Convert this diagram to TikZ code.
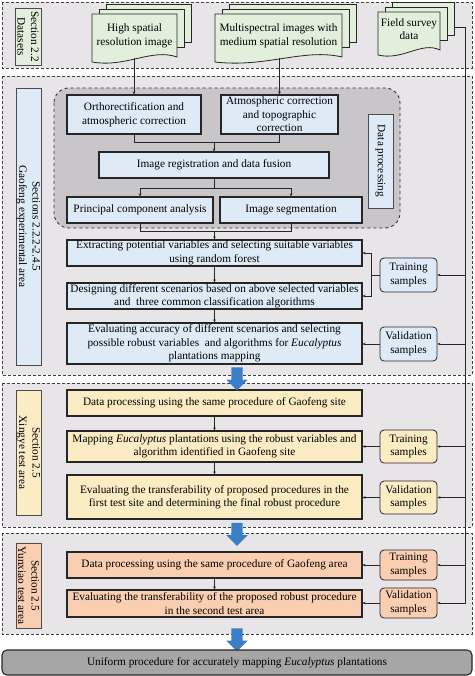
\documentclass[tikz,border=0pt]{standalone}
\usepackage{fontspec}
\setmainfont{Liberation Serif}
\usepackage{xcolor}
\usetikzlibrary{shapes.arrows, arrows.meta, positioning, calc}
\definecolor{panelgray}{RGB}{231,229,231}
\definecolor{dpgray}{RGB}{200,198,200}
\definecolor{docgreen}{RGB}{226,239,218}
\definecolor{boxblue}{RGB}{222,235,247}
\definecolor{boxyellow}{RGB}{252,236,196}
\definecolor{boxsalmon}{RGB}{250,206,176}
\definecolor{arrowblue}{RGB}{58,126,200}
\definecolor{finalgray}{RGB}{166,166,166}

% stack of three sheets, front sheet corners x1,y1,x2,y2
\newcommand{\docstack}[4]{%
  \filldraw[fill=docgreen, draw=black!85, line width=0.8pt] (#1+14,#2-10) rectangle (#3+14,#4-20);
  \filldraw[fill=docgreen, draw=black!85, line width=0.8pt] (#1+7,#2-5) rectangle (#3+7,#4-15);
  \filldraw[fill=docgreen, draw=black!85, line width=0.8pt] (#1,#2) -- (#3,#2) -- (#3,#4-5)
    .. controls ({#3-0.3*(#3-#1)},#4-14) and ({#1+0.4*(#3-#1)},#4+6) .. (#1,#4) -- cycle;
}

\begin{document}
\begin{tikzpicture}[x=1pt, y=-1pt,
    font=\fontsize{11.3}{13.5}\selectfont,
    doctext/.style={align=center, inner sep=0pt},
    panel/.style={draw=black!75, densely dashed, line width=0.9pt, fill=panelgray},
    sidebox/.style={draw=black!70, line width=0.6pt, rotate=-90, align=center, inner sep=0pt},
    procbox/.style={draw=black!85, line width=1.1pt, align=center, inner sep=0.5pt},
    samplebox/.style={draw=black!85, line width=0.8pt, rounded corners=4pt, align=center, inner sep=0.5pt, minimum width=57pt},
    link/.style={draw=black!85, line width=0.8pt},
    arr/.style={link, -{Stealth[length=3pt,width=2.6pt]}},
    bigarrow/.style={single arrow, fill=arrowblue, draw=none, shape border rotate=270,
        minimum height=23pt, single arrow head extend=5pt, inner sep=5.5pt},
]
\useasboundingbox (0,0) rectangle (474,676);

% Datasets
\draw[panel] (2,2) rectangle (472,68);
\node (side1) [sidebox, fill=docgreen, minimum width=57pt, minimum height=26pt] at (28,36.5) {Section 2.2\\Datasets};
\docstack{92}{14}{177}{62}
\node (hsr) [doctext] at (134.5,36) {High spatial\\resolution image};
\docstack{215}{14}{342}{62}
\node (msi) [doctext] at (278.5,36) {Multispectral images with\\medium spatial resolution};
\docstack{378}{12}{440}{55}
\node (fsd) [doctext] at (409,29) {Field survey\\data};
\coordinate (hsr-b) at (134,58);
\coordinate (msi-b) at (279.5,58);
\coordinate (fsd-r) at (454,27);
\coordinate (bus) at (465,27);

% Gaofeng experimental area
\draw[panel] (2,76) rectangle (472,375);
\node (side2) [sidebox, fill=boxblue, minimum width=277pt, minimum height=25pt] at (28.5,226.5) {Sections 2.2.2-2.4.5\\Gaofeng experimental area};
\draw[draw=black!80, dashed, line width=0.9pt, fill=dpgray, rounded corners=15pt] (54,88) rectangle (400,228);
\node (dplab) [sidebox, fill=boxblue, minimum width=94pt, minimum height=25pt] at (380.5,161) {Data processing};
\node (ortho) [procbox, fill=boxblue, minimum width=134pt, minimum height=39pt] at (134,114.5) {Orthorectification and\\atmospheric correction};
\node (atmos) [procbox, fill=boxblue, minimum width=117pt, minimum height=39pt] at (279.5,114.5) {Atmospheric correction\\and topographic\\correction};
\node (imgreg) [procbox, fill=boxblue, minimum width=230pt, minimum height=26pt] at (214,165) {Image registration and data fusion};
\node (pca) [procbox, fill=boxblue, minimum width=146pt, minimum height=26pt] at (140,210) {Principal component analysis};
\node (seg) [procbox, fill=boxblue, minimum width=142pt, minimum height=26pt] at (291,210) {Image segmentation};
\node (extract) [procbox, fill=boxblue, minimum width=295pt, minimum height=26pt] at (214.5,253) {Extracting potential variables and selecting suitable variables\\using random forest};
\node (design) [procbox, fill=boxblue, minimum width=295pt, minimum height=26pt] at (214.5,296) {Designing different scenarios based on above selected variables\\and~ three common classification algorithms};
\node (evalacc) [procbox, fill=boxblue, minimum width=295pt, minimum height=41pt] at (214.5,343.5) {Evaluating accuracy of different scenarios and selecting\\possible robust variables~ and algorithms for \textit{Eucalyptus}\\plantations mapping};
\node (train1) [samplebox, fill=boxblue, minimum height=34pt] at (408.5,275) {Training\\samples};
\node (valid1) [samplebox, fill=boxblue, minimum height=34pt] at (408.5,344) {Validation\\samples};

\draw[arr] (hsr-b) -- (ortho.north);
\draw[arr] (msi-b) -- (atmos.north);
\coordinate (j1) at ($(imgreg.north)+(0,-9)$);
\draw[link] (ortho.south) |- (j1) -| (atmos.south);
\draw[arr] (j1) -- (imgreg.north);
\coordinate (j2) at ($(imgreg.south)+(0,10)$);
\draw[link] (imgreg.south) -- (j2);
\draw[arr] (j2) -| (pca.north);
\draw[arr] (j2) -| (seg.north);
\coordinate (j3) at ($(extract.north)+(0,-8)$);
\draw[link] (pca.south) |- (j3) -| (seg.south);
\draw[arr] (j3) -- (extract.north);
\draw[arr] (extract) -- (design);
\draw[arr] (design) -- (evalacc);
\coordinate (t1) at ($(train1.west)+(-8,0)$);
\draw[link] (train1.west) -- (t1);
\draw[arr] (t1) |- (extract.east);
\draw[arr] (t1) |- (design.east);
\draw[arr] (valid1.west) -- (valid1.west -| evalacc.east);

% Xingye test area
\draw[panel] (2,383) rectangle (472,527);
\node (side3) [sidebox, fill=boxyellow, minimum width=125pt, minimum height=25pt] at (28.5,452.5) {Section 2.5\\Xingye test area};
\node (dp2) [procbox, fill=boxyellow, minimum width=295pt, minimum height=26pt] at (214.5,403) {Data processing using the same procedure of Gaofeng site};
\node (map2) [procbox, fill=boxyellow, minimum width=295pt, minimum height=31pt] at (214.5,446.5) {Mapping \textit{Eucalyptus} plantations using the robust variables and\\algorithm identified in Gaofeng site};
\node (evaltr2) [procbox, fill=boxyellow, minimum width=295pt, minimum height=44pt] at (214.5,497) {Evaluating the transferability of proposed procedures in the\\first test site and determining the final robust procedure};
\node (train2) [samplebox, fill=boxyellow, minimum height=33pt] at (408.5,446.5) {Training\\samples};
\node (valid2) [samplebox, fill=boxyellow, minimum height=33pt] at (408.5,497.5) {Validation\\samples};
\draw[arr] (dp2) -- (map2);
\draw[arr] (map2) -- (evaltr2);
\draw[arr] (train2.west) -- (train2.west -| map2.east);
\draw[arr] (valid2.west) -- (valid2.west -| evaltr2.east);

% Yunxiao test area
\draw[panel] (2,533) rectangle (472,634);
\node (side4) [sidebox, fill=boxsalmon, minimum width=85pt, minimum height=25pt] at (28.5,585.5) {Section 2.5\\Yunxiao test area};
\node (dp3) [procbox, fill=boxsalmon, minimum width=295pt, minimum height=26pt] at (214.5,565) {Data processing using the same procedure of Gaofeng area};
\node (evaltr3) [procbox, fill=boxsalmon, minimum width=295pt, minimum height=27pt] at (214.5,603.5) {Evaluating the transferability of the proposed robust procedure\\in the second test area};
\node (train3) [samplebox, fill=boxsalmon, minimum height=30pt] at (408.5,565) {Training\\samples};
\node (valid3) [samplebox, fill=boxsalmon, minimum height=30pt] at (408.5,603) {Validation\\samples};
\draw[arr] (dp3) -- (evaltr3);
\draw[arr] (train3.west) -- (train3.west -| dp3.east);
\draw[arr] (valid3.west) -- (valid3.west -| evaltr3.east);

% field survey samples bus
\draw[link] (fsd-r) -- (bus);
\draw[arr] (bus) |- (valid3.east);
\draw[arr] (bus |- train1.east) -- (train1.east);
\draw[arr] (bus |- valid1.east) -- (valid1.east);
\draw[arr] (bus |- train2.east) -- (train2.east);
\draw[arr] (bus |- valid2.east) -- (valid2.east);
\draw[arr] (bus |- train3.east) -- (train3.east);

% flow between stages
\node (flow1) [bigarrow] at (237,376) {};
\node (flow2) [bigarrow] at (237,531.5) {};
\node (flow3) [bigarrow] at (237,637) {};

\node (final) [procbox, rounded corners=5pt, fill=finalgray, minimum width=470pt, minimum height=25pt] at (237,662.5) {Uniform procedure for accurately mapping \textit{Eucalyptus} plantations};
\end{tikzpicture}
\end{document}
